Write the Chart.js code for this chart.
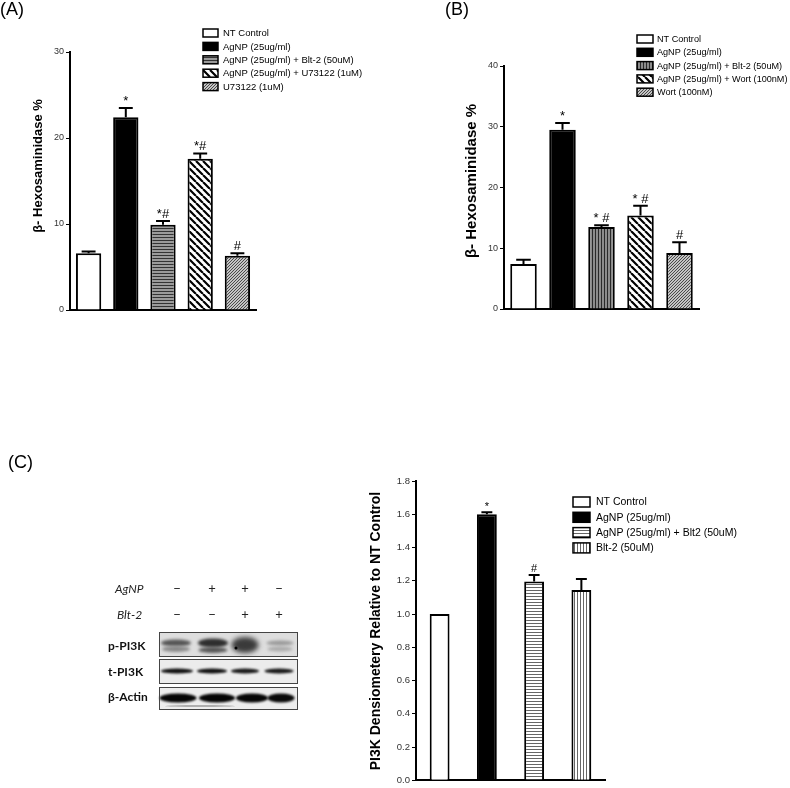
<!DOCTYPE html>
<html><head><meta charset="utf-8">
<script src="https://cdn.jsdelivr.net/npm/chart.js@4.4.1/dist/chart.umd.min.js"></script>
<style>
html,body{margin:0;padding:0;background:#fff;}
#wrap{position:relative;width:790px;height:788px;overflow:hidden;}
canvas{position:absolute;}
</style></head><body>
<div id="wrap">
<canvas id="bg" width="790" height="788" style="left:0;top:0"></canvas>
<canvas id="chartA" width="400" height="330" style="left:0;top:0"></canvas>
<canvas id="chartB" width="390" height="330" style="left:400px;top:0"></canvas>
<canvas id="chartC" width="435" height="348" style="left:355px;top:440px"></canvas>
</div>
<script>
// panel A
const labelsA = ['NT Control', 'AgNP (25ug/ml)', 'AgNP (25ug/ml) + Blt-2 (50uM)', 'AgNP (25ug/ml) + U73122 (1uM)', 'U73122 (1uM)'];
const valuesA = [6.6, 22.4, 9.9, 17.6, 6.3];
const errorsA = [0.2, 1.1, 0.45, 0.6, 0.3];
const marksA = ['', '*', '*#', '*#', '#'];
const ticksA = [0, 10, 20, 30];
// panel B
const labelsB = ['NT Control', 'AgNP (25ug/ml)', 'AgNP (25ug/ml) + Blt-2 (50uM)', 'AgNP (25ug/ml) + Wort (100nM)', 'Wort (100nM)'];
const valuesB = [7.4, 29.5, 13.5, 15.4, 9.2];
const errorsB = [0.7, 1.1, 0.3, 1.6, 1.8];
const marksB = ['', '*', '* #', '* #', '#'];
const ticksB = [0, 10, 20, 30, 40];
// panel C
const labelsC = ['NT Control', 'AgNP (25ug/ml)', 'AgNP (25ug/ml) + Blt2 (50uM)', 'Blt-2 (50uM)'];
const valuesC = [1.0, 1.6, 1.195, 1.145];
const errorsC = [0, 0.012, 0.04, 0.065];
const marksC = ['', '*', '#', ''];
const ticksC = [0, 0.2, 0.4, 0.6, 0.8, 1.0, 1.2, 1.4, 1.6, 1.8];
// western blot
const blotLanes = ['AgNP', 'Blt-2'];
const agnpSigns = ['\u2212', '+', '+', '\u2212'];
const bltSigns = ['\u2212', '\u2212', '+', '+'];
const blotRows = ['p-PI3K', 't-PI3K', '\u03b2-Actin'];

Chart.defaults.font.family = '"Liberation Sans", Arial, sans-serif';
Chart.defaults.color = '#333';

function tile(w, h, draw) {
  const c = document.createElement('canvas'); c.width = w; c.height = h;
  const g = c.getContext('2d'); draw(g);
  return g.createPattern(c, 'repeat');
}
const hStripeDark = tile(4, 3, g => { g.fillStyle = '#9a9a9a'; g.fillRect(0, 0, 4, 3); g.fillStyle = '#333'; g.fillRect(0, 0, 4, 1); });
const vStripeDark = tile(3, 4, g => { g.fillStyle = '#8c8c8c'; g.fillRect(0, 0, 3, 4); g.fillStyle = '#2a2a2a'; g.fillRect(0, 0, 1, 4); });
const diagWide = tile(7, 7, g => {
  g.fillStyle = '#fff'; g.fillRect(0, 0, 7, 7); g.strokeStyle = '#000'; g.lineWidth = 2.2; g.beginPath();
  for (let k = -1; k <= 1; k++) { g.moveTo(k * 7, 0); g.lineTo(k * 7 + 7, 7); }
  g.stroke();
});
const diagFine = tile(3, 3, g => {
  g.fillStyle = '#c4c4c4'; g.fillRect(0, 0, 3, 3); g.fillStyle = '#4a4a4a';
  g.fillRect(2, 0, 1, 1); g.fillRect(1, 1, 1, 1); g.fillRect(0, 2, 1, 1);
});
const hStripeLight = tile(4, 3, g => { g.fillStyle = '#fff'; g.fillRect(0, 0, 4, 3); g.fillStyle = '#666'; g.fillRect(0, 0, 4, 1); });
const vStripeLight = tile(3, 4, g => { g.fillStyle = '#fff'; g.fillRect(0, 0, 3, 4); g.fillStyle = '#666'; g.fillRect(0, 0, 1, 4); });

function decor(o) {
  return {
    id: 'decor',
    afterDatasetsDraw(chart) {
      const ctx = chart.ctx, y = chart.scales.y;
      const meta = chart.getDatasetMeta(0);
      ctx.save();
      meta.data.forEach((bar, i) => {
        const err = o.errors[i];
        const top = y.getPixelForValue(o.values[i] + err);
        const half = bar.width * 0.55 / 2;
        if (err > 0) {
          ctx.strokeStyle = '#000'; ctx.lineWidth = 2;
          ctx.beginPath();
          ctx.moveTo(bar.x, bar.y); ctx.lineTo(bar.x, top);
          ctx.moveTo(bar.x - half, top); ctx.lineTo(bar.x + half, top);
          ctx.stroke();
        }
        if (o.marks[i]) {
          ctx.fillStyle = '#000'; ctx.font = o.markFont;
          ctx.textAlign = 'center'; ctx.textBaseline = 'alphabetic';
          ctx.fillText(o.marks[i], bar.x, top - o.markGap);
        }
      });
      const lg = o.legend;
      ctx.font = lg.font; ctx.textAlign = 'left'; ctx.textBaseline = 'middle';
      o.labels.forEach((t, i) => {
        const ly = lg.y + i * lg.dy;
        ctx.fillStyle = o.fills[i];
        ctx.fillRect(lg.x, ly - lg.h / 2, lg.w, lg.h);
        ctx.strokeStyle = '#000'; ctx.lineWidth = 1.5;
        ctx.strokeRect(lg.x, ly - lg.h / 2, lg.w, lg.h);
        ctx.fillStyle = '#000';
        ctx.fillText(t, lg.x + lg.w + lg.gap, ly + 0.5);
      });
      ctx.translate(o.titleX, o.titleY); ctx.rotate(-Math.PI / 2);
      ctx.font = o.titleFont; ctx.fillStyle = '#000';
      ctx.textAlign = 'center'; ctx.textBaseline = 'middle';
      ctx.fillText(o.title, 0, 0);
      ctx.restore();
    }
  };
}

function makeChart(id, o) {
  return new Chart(document.getElementById(id), {
    type: 'bar',
    data: { labels: o.labels, datasets: [{
      data: o.values, backgroundColor: o.fills, borderColor: '#000', borderWidth: 2,
      borderSkipped: 'bottom', barPercentage: o.barPct, categoryPercentage: 1
    }]},
    options: {
      responsive: false, animation: false, devicePixelRatio: 1,
      layout: { padding: o.pad },
      plugins: { legend: { display: false }, tooltip: { enabled: false } },
      scales: {
        x: {
          ticks: { display: false },
          grid: { display: true, drawOnChartArea: false, drawTicks: false },
          border: { display: true, color: '#000', width: 2 },
          afterFit: s => { s.height = 0; }
        },
        y: {
          min: o.ticks[0], max: o.ticks[o.ticks.length - 1],
          afterBuildTicks: s => { s.ticks = o.ticks.map(v => ({ value: v })); },
          ticks: { color: '#333', font: { size: o.tickSize }, padding: 2, callback: v => o.fmt(v) },
          grid: { display: true, drawOnChartArea: false, drawTicks: true, tickLength: 4, color: '#000', lineWidth: 1 },
          border: { display: true, color: '#000', width: 2 },
          afterFit: s => { s.width = o.axisW; }
        }
      }
    },
    plugins: [decor(o)]
  });
}

makeChart('chartA', {
  labels: labelsA, values: valuesA, errors: errorsA, marks: marksA, ticks: ticksA,
  fills: ['#fff', '#000', hStripeDark, diagWide, diagFine],
  pad: { top: 52, left: 0, right: 144, bottom: 20 }, axisW: 70, barPct: 0.68,
  tickSize: 9, fmt: v => String(v),
  markFont: '13px "Liberation Sans", Arial', markGap: 3,
  legend: { x: 203, y: 33, dy: 13.4, w: 15, h: 8, gap: 5, font: '9.5px "Liberation Sans", Arial' },
  title: '\u03b2- Hexosaminidase %', titleX: 38.5, titleY: 166, titleFont: 'bold 13px "Liberation Sans", Arial'
});

makeChart('chartB', {
  labels: labelsB, values: valuesB, errors: errorsB, marks: marksB, ticks: ticksB,
  fills: ['#fff', '#000', vStripeDark, diagWide, diagFine],
  pad: { top: 66, left: 0, right: 91, bottom: 21 }, axisW: 104, barPct: 0.68,
  tickSize: 9, fmt: v => String(v),
  markFont: '13px "Liberation Sans", Arial', markGap: 3,
  legend: { x: 237, y: 39, dy: 13.3, w: 16, h: 8, gap: 4, font: '9.1px "Liberation Sans", Arial' },
  title: '\u03b2- Hexosaminidase %', titleX: 72, titleY: 181, titleFont: 'bold 15px "Liberation Sans", Arial'
});

makeChart('chartC', {
  labels: labelsC, values: valuesC, errors: errorsC, marks: marksC, ticks: ticksC,
  fills: ['#fff', '#000', hStripeLight, vStripeLight],
  pad: { top: 41, left: 0, right: 185, bottom: 4 }, axisW: 61, barPct: 0.42,
  tickSize: 9.5, fmt: v => v.toFixed(1),
  markFont: '11px "Liberation Sans", Arial', markGap: 2.5,
  legend: { x: 218, y: 62, dy: 15.3, w: 17, h: 10, gap: 6, font: '10.5px "Liberation Sans", Arial' },
  title: 'PI3K Densiometery Relative to NT Control', titleX: 21, titleY: 191, titleFont: 'bold 14px "Liberation Sans", Arial'
});

// background: panel letters and the blot picture
const bg = document.getElementById('bg').getContext('2d');
bg.fillStyle = '#000';
bg.font = '18px "Liberation Sans", Arial';
bg.textBaseline = 'alphabetic';
bg.fillText('(A)', 0, 15);
bg.fillText('(B)', 445, 15);
bg.fillText('(C)', 8, 468);

const laneX = [177, 212, 245, 279];
bg.font = 'italic 12px Lato, "Noto Sans", sans-serif';
bg.fillStyle = '#222';
bg.fillText(blotLanes[0], 115, 593);
bg.fillText(blotLanes[1], 117, 619);
bg.font = '13px Lato, "Noto Sans", sans-serif';
bg.textAlign = 'center';
agnpSigns.forEach((s, i) => bg.fillText(s, laneX[i], 593));
bltSigns.forEach((s, i) => bg.fillText(s, laneX[i], 619));
bg.textAlign = 'left';
bg.font = 'bold 12px Lato, "Noto Sans", sans-serif';
bg.fillStyle = '#111';
bg.fillText(blotRows[0], 108, 650);
bg.fillText(blotRows[1], 108, 676);
bg.fillText(blotRows[2], 108, 701);

const boxes = [[159, 632, 138, 24, '#dedede'], [159, 659, 138, 24, '#ececec'], [159, 687, 138, 22, '#ededed']];
boxes.forEach(b => { bg.fillStyle = b[4]; bg.fillRect(b[0], b[1], b[2], b[3]); });

function band(x, y, w, h, color, blur) {
  bg.save();
  bg.filter = 'blur(' + blur + 'px)';
  bg.fillStyle = color;
  bg.beginPath();
  bg.ellipse(x, y, w / 2, h / 2, 0, 0, Math.PI * 2);
  bg.fill();
  bg.restore();
}
// p-PI3K
band(176, 643, 30, 7, '#555', 1.5); band(176, 649, 28, 6, '#888', 1.5);
band(213, 643, 30, 9, '#2e2e2e', 1.5); band(213, 650, 29, 6, '#555', 1.5);
band(245, 645, 27, 16, '#3a3a3a', 2.5); band(236, 648, 3, 3, '#000', 0.3);
band(280, 643, 27, 5, '#999', 1.5); band(280, 649, 25, 5, '#aaa', 1.5);
// t-PI3K
band(177, 671, 32, 5, '#111', 0.8); band(212, 671, 30, 5, '#111', 0.8);
band(245, 671, 28, 5, '#1a1a1a', 0.8); band(279, 671, 29, 5, '#1a1a1a', 0.8);
// beta-actin
band(178, 698, 37, 9, '#050505', 0.8); band(217, 698, 36, 9, '#050505', 0.8);
band(252, 698, 32, 9, '#050505', 0.8); band(281, 698, 27, 9, '#0a0a0a', 0.8);
band(200, 706, 70, 1.5, '#999', 0.5);

bg.strokeStyle = '#444'; bg.lineWidth = 1;
boxes.forEach(b => bg.strokeRect(b[0] + 0.5, b[1] + 0.5, b[2], b[3]));
</script>
</body></html>
